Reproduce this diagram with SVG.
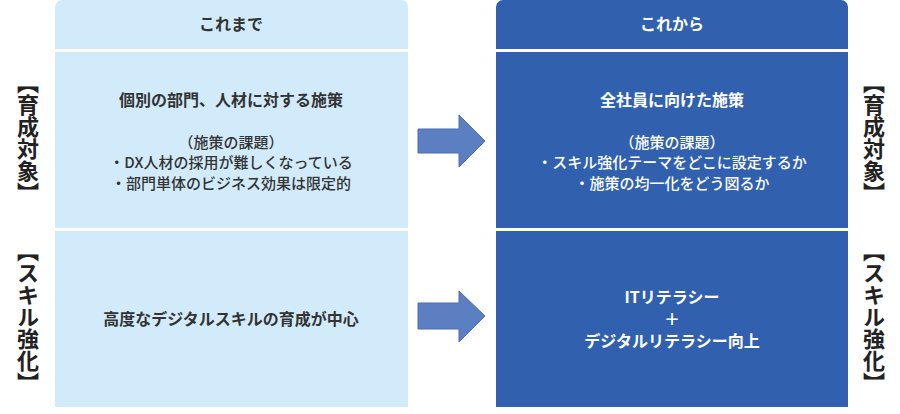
<svg xmlns="http://www.w3.org/2000/svg" width="900" height="414" viewBox="0 0 900 414">
<style>
text{font-family:"Noto Sans CJK JP","Noto Sans",sans-serif;font-weight:bold;text-anchor:middle}
.d{fill:#333}.w{fill:#fff}
.h{font-size:16px}.m{font-size:16px}.s{font-size:15px;font-weight:500}
.v{font-size:22px;writing-mode:vertical-rl;fill:#222}
.arr{fill:#5c7fc2;stroke:#4a6db0;stroke-width:1}
</style>
<rect width="900" height="414" fill="#fff"/>
<g id="left">
<path d="M55,407V7a7,7 0 0 1 7,-7H401a7,7 0 0 1 7,7V407Z" fill="#d2ebfb"/>
<rect x="55" y="49" width="353" height="3" fill="#fff"/>
<rect x="55" y="228" width="353" height="3" fill="#fff"/>
<text class="d h" x="231" y="30">これまで</text>
<text class="d m" x="231" y="106">個別の部門、人材に対する施策</text>
<text class="d s" x="231" y="148">（施策の課題）</text>
<text class="d s" x="231" y="168">・DX人材の採用が難しくなっている</text>
<text class="d s" x="231" y="189">・部門単体のビジネス効果は限定的</text>
<text class="d m" x="231" y="325">高度なデジタルスキルの育成が中心</text>
</g>
<g id="right">
<path d="M496,407V7a7,7 0 0 1 7,-7H841a7,7 0 0 1 7,7V407Z" fill="#3161ae"/>
<rect x="496" y="49" width="352" height="3" fill="#fff"/>
<rect x="496" y="228" width="352" height="3" fill="#fff"/>
<text class="w h" x="672" y="30">これから</text>
<text class="w m" x="672" y="106">全社員に向けた施策</text>
<text class="w s" x="672" y="148">（施策の課題）</text>
<text class="w s" x="672" y="168">・スキル強化テーマをどこに設定するか</text>
<text class="w s" x="672" y="189">・施策の均一化をどう図るか</text>
<text class="w m" x="672" y="303">ITリテラシー</text>
<text class="w m" x="672" y="325">＋</text>
<text class="w m" x="672" y="347">デジタルリテラシー向上</text>
</g>
<g id="labels">
<text class="v" x="28" y="138">【育成対象】</text>
<text class="v" x="28" y="317">【スキル強化】</text>
<text class="v" x="874" y="138">【育成対象】</text>
<text class="v" x="874" y="317">【スキル強化】</text>
</g>
<g id="connectors">
<path class="arr" d="M418,129H459V115L485,141L459,167V153H418Z"/>
<path class="arr" d="M418,303H459V291L485,316L459,342V329H418Z"/>
</g>
</svg>
